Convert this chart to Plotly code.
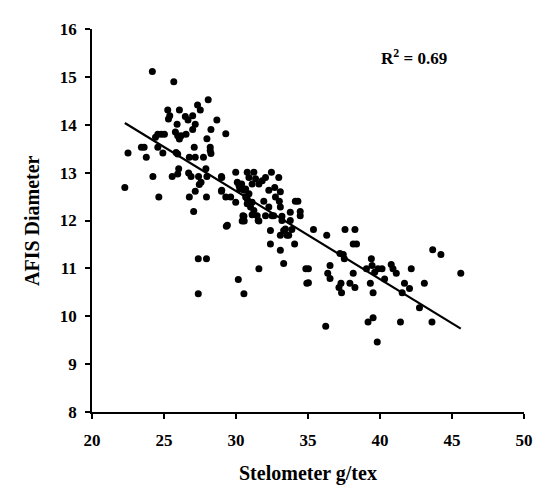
import numpy as np
import plotly.graph_objects as go

# Stelometer g/tex (x) and AFIS Diameter (y)
stelometer = [
    24.19, 25.68, 28.07, 27.33, 27.52, 25.26, 26.07, 25.40, 25.31, 26.48,
    26.67, 26.99, 28.67, 25.91, 27.17, 26.99, 28.26, 29.29, 25.79, 25.95,
    26.19, 26.53, 26.07, 24.57, 25.03, 24.41, 27.98, 28.21, 28.21, 27.10,
    23.43, 24.57, 24.92, 22.50, 23.77, 26.76, 27.17, 27.74, 25.95, 22.28,
    25.84, 28.26, 26.02, 25.95, 24.23, 25.57, 26.71, 26.88, 27.40, 27.57,
    27.45, 27.17, 27.91, 27.98, 28.99, 24.64, 26.76, 27.95, 28.99, 29.29,
    27.06, 29.33, 27.38, 27.95, 30.16, 27.38, 30.55, 30.48, 30.57, 29.98,
    29.63, 30.67, 30.78, 30.21, 30.55, 29.01, 29.01, 29.98, 30.09, 30.26,
    30.39, 30.78, 31.24, 30.90, 31.36, 31.12, 31.59, 30.67, 30.90, 30.78,
    31.12, 31.01, 31.24, 31.12, 31.47, 30.55, 30.43, 31.59, 31.82, 32.05,
    32.46, 32.97, 32.28, 32.69, 33.08, 31.93, 32.28, 32.74, 33.01, 33.08,
    34.12, 34.30, 32.05, 32.50, 33.19, 33.77, 34.46, 34.46, 33.19, 33.77,
    32.39, 33.31, 33.66, 33.08, 33.88, 35.38, 36.30, 32.39, 33.08, 34.07,
    37.57, 38.26, 38.14, 38.37, 31.59, 33.31, 34.85, 36.53, 36.37, 36.53,
    37.22, 37.52, 37.45, 38.14, 37.29, 37.91, 37.15, 38.26, 34.92, 35.03,
    35.03, 37.33, 39.06, 39.40, 39.45, 39.63, 39.86, 40.14, 40.78, 40.90,
    41.13, 39.33, 39.52, 40.32, 41.70, 42.05, 41.54, 42.17, 43.08, 42.74,
    43.66, 44.23, 45.61, 36.23, 39.17, 39.52, 41.42, 43.61, 39.81, 33.43,
    31.54, 32.62, 33.54, 29.40, 23.62, 24.81,
]
afis_diameter = [
    15.11, 14.90, 14.52, 14.41, 14.31, 14.31, 14.31, 14.19, 14.12, 14.17,
    14.10, 14.19, 14.10, 14.01, 14.01, 13.90, 13.90, 13.81, 13.85, 13.77,
    13.77, 13.80, 13.70, 13.80, 13.80, 13.74, 13.71, 13.53, 13.46, 13.53,
    13.53, 13.53, 13.41, 13.41, 13.32, 13.32, 13.32, 13.32, 13.39, 12.69,
    13.42, 13.40, 13.08, 12.97, 12.92, 12.92, 12.99, 12.92, 12.92, 12.80,
    12.75, 12.61, 13.08, 12.92, 12.92, 12.49, 12.49, 12.49, 12.61, 12.49,
    12.19, 11.88, 11.20, 11.20, 10.77, 10.47, 10.47, 12.10, 11.99, 12.38,
    12.49, 12.49, 12.35, 12.73, 12.63, 12.90, 12.63, 13.01, 12.80, 12.66,
    12.76, 13.01, 13.01, 12.90, 12.87, 12.76, 12.76, 12.66, 12.56, 12.45,
    12.38, 12.28, 12.21, 12.12, 12.10, 12.09, 11.99, 11.99, 12.83, 12.90,
    13.01, 12.90, 12.63, 12.69, 12.60, 12.40, 12.28, 12.49, 12.40, 12.28,
    12.40, 12.40, 12.10, 12.10, 12.09, 12.17, 12.19, 12.10, 12.00, 12.00,
    11.79, 11.79, 11.69, 11.69, 11.81, 11.81, 11.69, 11.51, 11.38, 11.51,
    11.81, 11.81, 11.51, 11.51, 10.99, 11.10, 10.99, 11.06, 10.90, 10.79,
    11.31, 11.20, 11.29, 10.90, 10.69, 10.69, 10.60, 10.60, 10.69, 10.70,
    10.99, 10.49, 10.99, 11.20, 11.06, 10.92, 10.99, 10.99, 11.08, 10.99,
    10.90, 10.69, 10.49, 10.78, 10.69, 10.58, 10.49, 10.99, 10.69, 10.18,
    11.39, 11.29, 10.90, 9.79, 9.88, 9.97, 9.88, 9.88, 9.46, 11.82,
    12.00, 12.10, 11.69, 11.90, 13.53, 13.80,
]

x_ticks = [20, 25, 30, 35, 40, 45, 50]
y_ticks = [8, 9, 10, 11, 12, 13, 14, 15, 16]
r_squared_label = "R<sup>2</sup> = 0.69"
x_title = "Stelometer g/tex"
y_title = "AFIS Diameter"

x = np.array(stelometer)
y = np.array(afis_diameter)
slope, intercept = np.polyfit(x, y, 1)
x_line = np.array([x.min(), x.max()])
y_line = intercept + slope * x_line

font_family = "Liberation Serif, Times New Roman, serif"

fig = go.Figure()
fig.add_trace(go.Scatter(
    x=x, y=y, mode="markers",
    marker=dict(color="black", size=7, line=dict(width=0)),
    showlegend=False, hoverinfo="skip",
))
fig.add_trace(go.Scatter(
    x=x_line, y=y_line, mode="lines",
    line=dict(color="black", width=2.2),
    showlegend=False, hoverinfo="skip",
))

axis_common = dict(
    showgrid=False, zeroline=False, showline=True, linecolor="black",
    linewidth=1.5, ticks="outside", ticklen=5, tickwidth=1.5, tickcolor="black",
    tickfont=dict(family=font_family, size=17, color="black"),
)
fig.update_xaxes(range=[20, 50], tickvals=x_ticks,
                 ticktext=["<b>%d</b>" % t for t in x_ticks],
                 ticklabelstandoff=7, **axis_common)
fig.update_yaxes(range=[8, 16], tickvals=y_ticks,
                 ticktext=["<b>%d</b>" % t for t in y_ticks],
                 ticklabelstandoff=5, **axis_common)

fig.add_annotation(
    text="<b>" + x_title + "</b>", xref="paper", yref="paper",
    x=0.5, y=-0.16, xanchor="center", yanchor="middle", showarrow=False,
    font=dict(family=font_family, size=20, color="black"),
)
fig.add_annotation(
    text="<b>" + y_title + "</b>", xref="paper", yref="paper",
    x=-0.14, y=0.5, xanchor="center", yanchor="middle", showarrow=False,
    textangle=-90, font=dict(family=font_family, size=20, color="black"),
)
fig.add_annotation(
    text="<b>" + r_squared_label + "</b>", xref="x", yref="y",
    x=39.9, y=15.42, xanchor="left", yanchor="middle", showarrow=False,
    font=dict(family=font_family, size=17, color="black"),
)

fig.update_layout(
    width=543, height=485,
    margin=dict(l=84, r=27, t=17, b=81),
    plot_bgcolor="white", paper_bgcolor="white",
)

fig.write_html("out.html")
